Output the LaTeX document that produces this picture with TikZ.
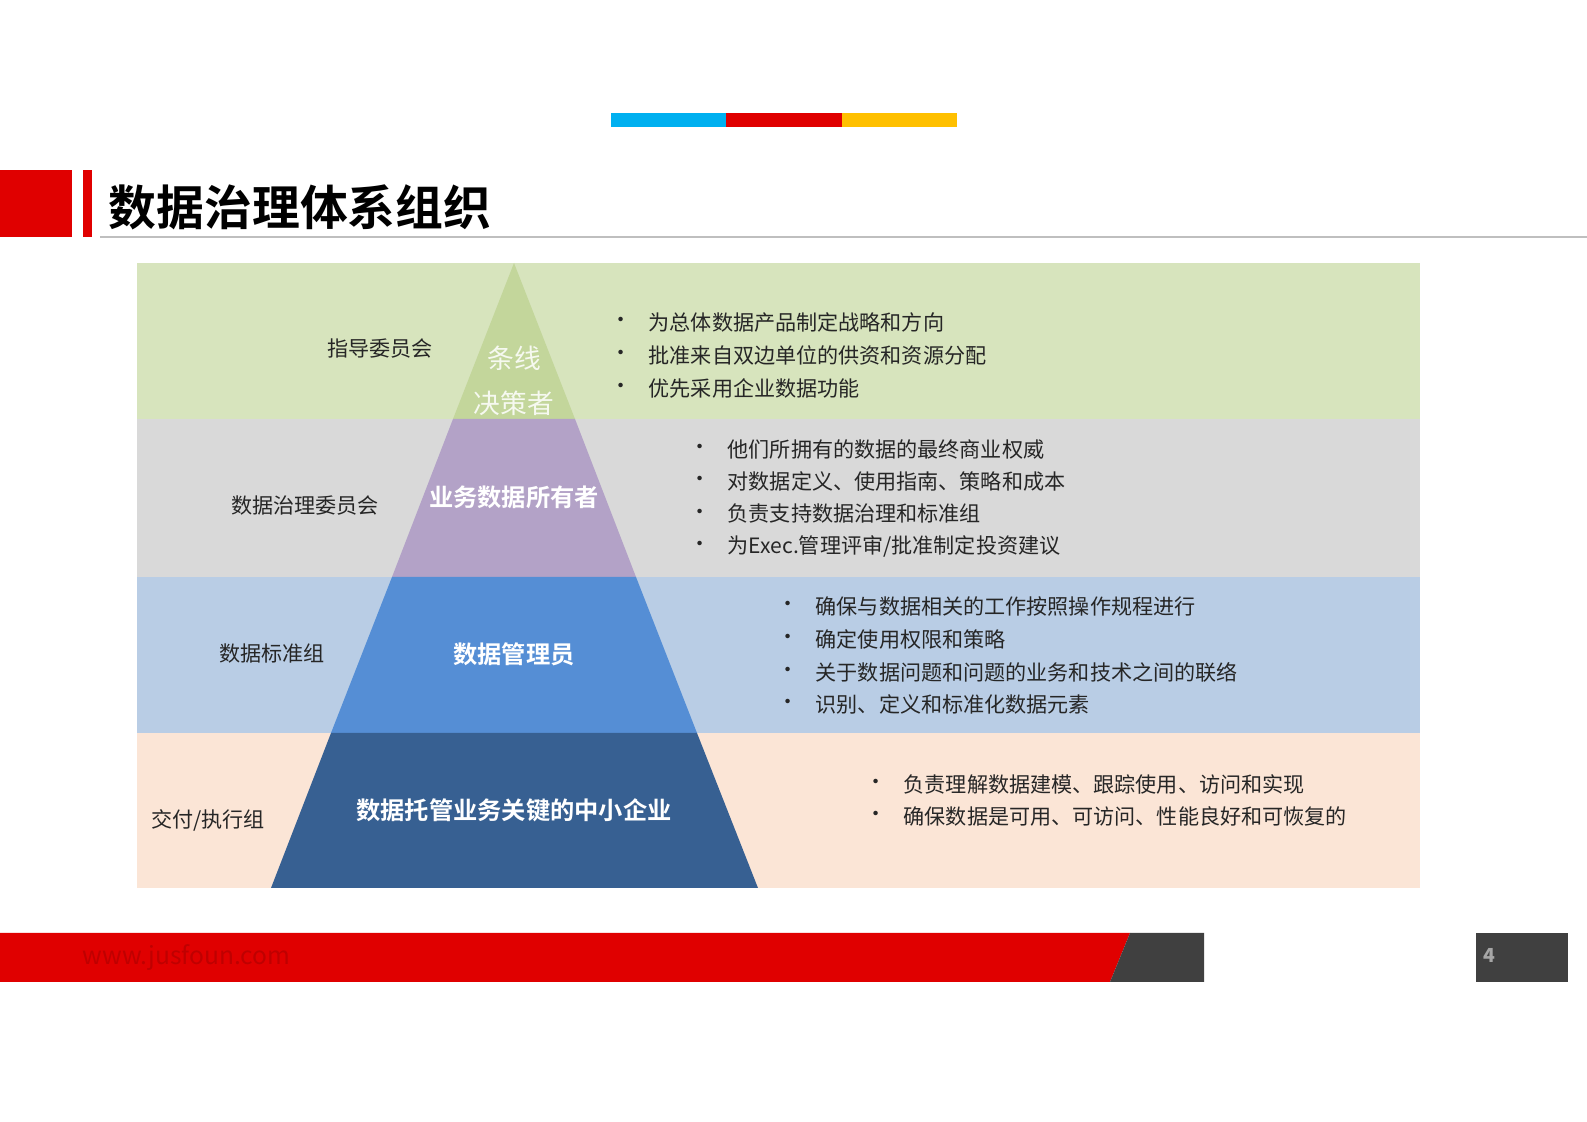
\documentclass[tikz,border=0pt]{standalone}
\usepackage{fontspec}
\setmainfont{Noto Sans CJK SC}
\newfontfamily\cjkb{Noto Sans CJK SC Bold}
\definecolor{cBlue}{HTML}{00B0F0}
\definecolor{cRed}{HTML}{E00000}
\definecolor{cYel}{HTML}{FFC000}
\definecolor{bGreen}{HTML}{D7E4BD}
\definecolor{bGray}{HTML}{D9D9D9}
\definecolor{bBlue}{HTML}{B9CDE5}
\definecolor{bPeach}{HTML}{FBE5D6}
\definecolor{pGreen}{HTML}{C3D69B}
\definecolor{pPurple}{HTML}{B3A2C7}
\definecolor{pBlue}{HTML}{558ED5}
\definecolor{pDark}{HTML}{376092}
\definecolor{dGray}{HTML}{404040}
\begin{document}
\begin{tikzpicture}[x=0.01cm,y=-0.01cm,
  lbl/.style={font=\fontsize{6}{7}\selectfont,text=black!85},
  bul/.style={font=\fontsize{6}{7}\selectfont,text=black!85,anchor=west,inner sep=0},
  pyr/.style={font=\cjkb\fontsize{6.9}{8}\selectfont,text=white}]
\useasboundingbox (0,0) rectangle (1587,1122);
\fill[white] (0,0) rectangle (1587,1122);
% top bar
\fill[cBlue] (611,113) rectangle (726,127);
\fill[cRed] (726,113) rectangle (842,127);
\fill[cYel] (842,113) rectangle (957,127);
% title
\fill[cRed] (0,170) rectangle (72,237);
\fill[cRed] (83,170) rectangle (92,237);
\draw[gray!50] (100,237) -- (1587,237);
\node[anchor=west,font=\cjkb\fontsize{13.6}{15}\selectfont,inner sep=0] (title) at (108,207) {数据治理体系组织};
% bands
\fill[bGreen] (137,263) rectangle (1420,419);
\fill[bGray] (137,419) rectangle (1420,577);
\fill[bBlue] (137,577) rectangle (1420,733);
\fill[bPeach] (137,733) rectangle (1420,888);
\fill[pGreen] (514,263) -- (575,419) -- (453,419) -- cycle;
\fill[pPurple] (453,419) -- (575,419) -- (636,577) -- (392,577) -- cycle;
\fill[pBlue] (392,577) -- (636,577) -- (697,733) -- (331,733) -- cycle;
\fill[pDark] (331,733) -- (697,733) -- (758,888) -- (271,888) -- cycle;
% left labels
\node[lbl] (l1) at (380,349) {指导委员会};
\node[lbl] (l2) at (305,506) {数据治理委员会};
\node[lbl] (l3) at (272,654) {数据标准组};
\node[lbl] (l4) at (208,820) {交付/执行组};
% pyramid texts
\node[font=\fontsize{7.6}{9}\selectfont,text=white!85!pGreen] (p1a) at (514,358) {条线};
\node[font=\fontsize{7.6}{9}\selectfont,text=white!85!pGreen] (p1b) at (514,403) {决策者};
\node[pyr] (p2) at (514,497) {业务数据所有者};
\node[pyr] (p3) at (514,654) {数据管理员};
\node[pyr] (p4) at (514,810) {数据托管业务关键的中小企业};
% bullets
\foreach \y/\t in {322/{为总体数据产品制定战略和方向},355/{批准来自双边单位的供资和资源分配},388/{优先采用企业数据功能}}
 {\node[bul] at (610,\y) {•}; \node[bul] at (648,\y) {\t};}
\foreach \y/\t in {449/{他们所拥有的数据的最终商业权威},481/{对数据定义、使用指南、策略和成本},514/{负责支持数据治理和标准组},546/{为Exec.管理评审/批准制定投资建议}}
 {\node[bul] at (689,\y) {•}; \node[bul] at (727,\y) {\t};}
\foreach \y/\t in {606/{确保与数据相关的工作按照操作规程进行},639/{确定使用权限和策略},672/{关于数据问题和问题的业务和技术之间的联络},704/{识别、定义和标准化数据元素}}
 {\node[bul] at (777,\y) {•}; \node[bul] at (815,\y) {\t};}
\foreach \y/\t in {784/{负责理解数据建模、跟踪使用、访问和实现},816/{确保数据是可用、可访问、性能良好和可恢复的}}
 {\node[bul] at (865,\y) {•}; \node[bul] at (903,\y) {\t};}
% footer
\fill[cRed] (0,933) -- (1130,933) -- (1110,982) -- (0,982) -- cycle;
\fill[dGray] (1130,933) -- (1204,933) -- (1204,982) -- (1110,982) -- cycle;
\node[anchor=west,inner sep=0,font=\fontsize{7}{8}\selectfont,text=red!75!black] (url) at (82,958) {www.jusfoun.com};
\fill[dGray] (1476,933) rectangle (1568,982);
\node[anchor=west,inner sep=0,font=\bfseries\fontsize{5.5}{6}\selectfont,text=gray!70] (pg) at (1483,955) {4};
\end{tikzpicture}
\end{document}
